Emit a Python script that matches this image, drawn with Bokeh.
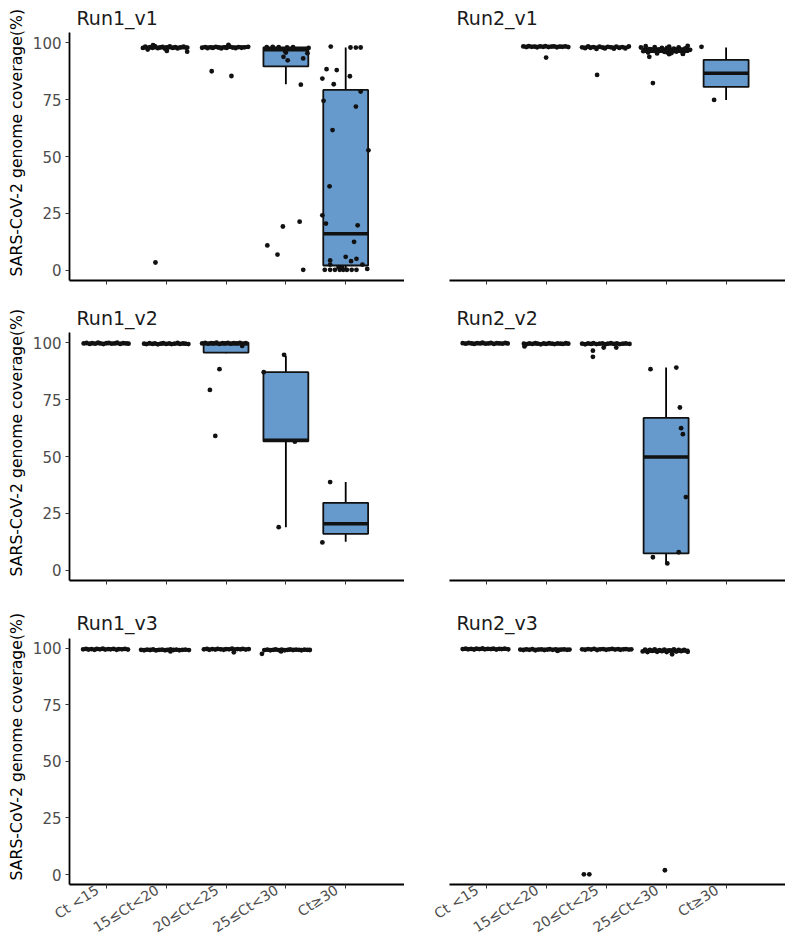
import math
from bokeh.plotting import figure
from bokeh.layouts import row, column
from bokeh.models import FixedTicker, Range1d, Title, Label, LinearAxis
from bokeh.embed import file_html
from bokeh.resources import INLINE

NA = float("nan")

categories = ["Ct <15", "15≤Ct<20", "20≤Ct<25", "25≤Ct<30", "Ct≥30"]
y_ticks = [0, 25, 50, 75, 100]
y_label = "SARS-CoV-2 genome coverage(%)"

# ---------------- Run1_v1 ----------------
r1v1_lo = [NA, 96.3, 97.2, 81.7, 0.0]
r1v1_q1 = [NA, 97.4, 97.6, 89.5, 2.2]
r1v1_med = [NA, 97.8, 97.9, 96.8, 16.1]
r1v1_q3 = [NA, 98.2, 98.2, 97.8, 79.2]
r1v1_hi = [NA, 98.8, 98.9, 98.0, 97.8]
r1v1_g2_val = [97.6, 98.2, 96.9, 98.0, 97.7, 98.4, 97.5, 97.9, 98.1, 97.3, 97.8, 98.3, 97.6, 98.0, 97.4, 97.9, 98.2, 97.7, 98.8, 96.3, 96.0, 3.5]
r1v1_g2_jit = [-0.39, -0.35, -0.31, -0.27, -0.23, -0.19, -0.14, -0.10, -0.06, -0.02, 0.02, 0.06, 0.11, 0.15, 0.19, 0.24, 0.29, 0.34, -0.22, 0.01, 0.35, -0.18]
r1v1_g3_val = [97.7, 98.0, 97.5, 97.9, 97.6, 98.1, 97.8, 97.4, 99.0, 97.9, 97.6, 98.2, 97.8, 97.5, 98.0, 97.7, 97.9, 98.1, 87.4, 85.3]
r1v1_g3_jit = [-0.40, -0.35, -0.31, -0.26, -0.22, -0.17, -0.13, -0.08, 0.04, -0.03, 0.01, 0.06, 0.11, 0.16, 0.21, 0.26, 0.31, 0.37, -0.24, 0.09]
r1v1_g4_val = [98.0, 98.1, 98.0, 97.9, 98.0, 97.6, 95.6, 93.7, 92.2, 95.3, 93.0, 81.5, 19.3, 21.4, 11.0, 7.0, 0.3, 96.2]
r1v1_g4_jit = [-0.32, -0.22, -0.12, 0.02, 0.12, 0.38, 0.00, -0.04, 0.03, 0.36, 0.29, 0.25, -0.05, 0.23, -0.31, -0.14, 0.29, -0.01]
r1v1_g5_val = [98.2, 97.8, 97.8, 97.8, 88.3, 87.9, 84.2, 81.7, 85.2, 74.4, 78.5, 71.9, 61.6, 52.7, 36.9, 24.2, 20.6, 19.8, 12.6, 6.0, 4.4, 4.1, 5.1, 2.6, 2.6, 0.7, 0.3, 0.3, 0.3, 0.3, 0.3, 0.3, 0.3, 0.3, 1.5, 1.2]
r1v1_g5_jit = [-0.25, 0.08, 0.17, 0.25, -0.32, -0.15, -0.39, -0.20, 0.07, -0.37, 0.25, 0.17, -0.22, 0.38, -0.27, -0.39, -0.33, 0.20, 0.14, 0.00, -0.26, 0.09, 0.18, -0.26, 0.28, 0.36, -0.35, -0.26, -0.18, -0.10, -0.04, 0.02, 0.10, 0.18, -0.12, -0.06]

# ---------------- Run2_v1 ----------------
r2v1_lo = [NA, 97.8, 97.2, 94.8, 74.8]
r2v1_q1 = [NA, 98.0, 97.6, 95.8, 80.5]
r2v1_med = [NA, 98.2, 97.9, 96.6, 86.5]
r2v1_q3 = [NA, 98.3, 98.1, 97.5, 92.4]
r2v1_hi = [NA, 98.5, 98.4, 98.6, 97.8]
r2v1_g2_val = [98.3, 98.0, 98.4, 98.1, 98.2, 97.9, 98.3, 98.1, 98.4, 98.0, 98.2, 98.3, 97.9, 98.2, 98.1, 98.3, 98.0, 93.4]
r2v1_g2_jit = [-0.38, -0.33, -0.29, -0.24, -0.19, -0.15, -0.10, -0.05, -0.01, 0.04, 0.09, 0.13, 0.18, 0.23, 0.27, 0.32, 0.37, 0.00]
r2v1_g3_val = [97.9, 97.5, 98.3, 97.7, 98.0, 97.2, 98.2, 97.8, 97.4, 98.1, 97.9, 97.3, 98.2, 97.6, 98.0, 97.4, 98.3, 85.8]
r2v1_g3_jit = [-0.40, -0.35, -0.30, -0.26, -0.21, -0.16, -0.11, -0.06, -0.02, 0.03, 0.08, 0.13, 0.17, 0.22, 0.27, 0.32, 0.38, -0.15]
r2v1_g4_val = [97.8, 96.2, 98.4, 95.6, 97.1, 96.6, 98.0, 95.2, 96.9, 97.6, 95.9, 96.4, 98.2, 95.4, 97.3, 96.0, 97.9, 96.5, 95.1, 97.4, 98.5, 96.8, 93.7, 82.2, 94.9, 95.0]
r2v1_g4_jit = [-0.42, -0.38, -0.34, -0.30, -0.27, -0.23, -0.19, -0.15, -0.11, -0.07, -0.03, 0.01, 0.05, 0.09, 0.13, 0.17, 0.21, 0.25, 0.28, 0.32, 0.36, 0.40, -0.28, -0.22, 0.05, 0.28]
r2v1_g5_val = [98.1, 74.8]
r2v1_g5_jit = [-0.41, -0.20]

# ---------------- Run1_v2 ----------------
r1v2_lo = [99.2, 99.1, 95.3, 19.0, 12.6]
r1v2_q1 = [99.4, 99.3, 95.6, 56.7, 16.1]
r1v2_med = [99.6, 99.5, 99.5, 57.1, 20.5]
r1v2_q3 = [99.8, 99.7, 99.9, 87.0, 29.7]
r1v2_hi = [100.0, 99.9, 100.0, 94.2, 38.8]
r1v2_g1_val = [99.6, 99.8, 99.4, 99.7, 99.5, 99.9, 99.6, 99.3, 99.7, 99.8, 99.5, 99.6, 99.9, 99.4, 99.7, 99.6, 99.5]
r1v2_g1_jit = [-0.38, -0.33, -0.28, -0.24, -0.19, -0.14, -0.10, -0.05, 0.00, 0.04, 0.09, 0.14, 0.18, 0.23, 0.28, 0.33, 0.37]
r1v2_g2_val = [99.5, 99.3, 99.7, 99.4, 99.6, 99.2, 99.5, 99.7, 99.4, 99.6, 99.3, 99.5, 99.8, 99.4, 99.6, 99.5, 99.3]
r1v2_g2_jit = [-0.37, -0.33, -0.28, -0.23, -0.19, -0.14, -0.09, -0.05, 0.00, 0.05, 0.09, 0.14, 0.19, 0.23, 0.28, 0.32, 0.37]
r1v2_g3_val = [99.6, 99.8, 99.5, 99.7, 99.6, 99.9, 99.4, 99.7, 99.6, 99.8, 99.5, 99.7, 99.6, 99.8, 99.5, 99.7, 98.5, 88.3, 79.2, 59.0]
r1v2_g3_jit = [-0.40, -0.35, -0.30, -0.25, -0.21, -0.16, -0.11, -0.06, -0.02, 0.03, 0.08, 0.13, 0.18, 0.23, 0.28, 0.33, 0.27, -0.11, -0.27, -0.18]
r1v2_g4_val = [94.6, 87.0, 56.5, 19.0]
r1v2_g4_jit = [-0.03, -0.37, 0.15, -0.12]
r1v2_g5_val = [38.8, 12.3]
r1v2_g5_jit = [-0.26, -0.39]

# ---------------- Run2_v2 ----------------
r2v2_lo = [99.2, 99.1, 99.0, 2.9, NA]
r2v2_q1 = [99.4, 99.3, 99.3, 7.5, NA]
r2v2_med = [99.6, 99.5, 99.5, 49.8, NA]
r2v2_q3 = [99.8, 99.7, 99.7, 66.9, NA]
r2v2_hi = [100.0, 99.9, 99.9, 89.0, NA]
r2v2_g1_val = [99.7, 99.5, 99.8, 99.6, 99.4, 99.7, 99.6, 99.9, 99.5, 99.6, 99.8, 99.4, 99.7, 99.6, 99.5, 99.8, 99.6]
r2v2_g1_jit = [-0.39, -0.34, -0.29, -0.24, -0.20, -0.15, -0.10, -0.06, -0.01, 0.04, 0.08, 0.13, 0.18, 0.22, 0.27, 0.32, 0.36]
r2v2_g2_val = [99.5, 99.3, 99.6, 99.4, 99.7, 99.5, 99.2, 99.6, 99.4, 99.7, 99.5, 99.3, 99.6, 99.5, 99.4, 99.7, 99.5, 98.3]
r2v2_g2_jit = [-0.37, -0.32, -0.28, -0.23, -0.18, -0.14, -0.09, -0.04, 0.00, 0.05, 0.10, 0.14, 0.19, 0.24, 0.28, 0.33, 0.37, -0.36]
r2v2_g3_val = [99.5, 99.2, 99.6, 99.4, 99.7, 99.3, 99.5, 99.6, 99.2, 99.5, 99.7, 99.4, 99.6, 99.3, 99.5, 99.6, 99.4, 96.4, 93.7, 97.8, 97.8]
r2v2_g3_jit = [-0.40, -0.35, -0.30, -0.25, -0.21, -0.16, -0.11, -0.06, -0.01, 0.03, 0.08, 0.13, 0.18, 0.23, 0.28, 0.33, 0.39, -0.22, -0.22, -0.04, 0.17]
r2v2_g4_val = [88.3, 89.0, 71.5, 62.4, 59.8, 32.2, 8.0, 5.8, 3.1]
r2v2_g4_jit = [-0.26, 0.17, 0.23, 0.25, 0.28, 0.33, 0.21, -0.22, 0.02]

# ---------------- Run1_v3 ----------------
r1v3_lo = [99.1, 98.8, 98.9, 98.6, NA]
r1v3_q1 = [99.3, 99.1, 99.3, 99.1, NA]
r1v3_med = [99.5, 99.3, 99.5, 99.3, NA]
r1v3_q3 = [99.7, 99.5, 99.7, 99.5, NA]
r1v3_hi = [99.9, 99.8, 99.9, 99.8, NA]
r1v3_g1_val = [99.5, 99.7, 99.4, 99.6, 99.3, 99.7, 99.5, 99.8, 99.4, 99.6, 99.5, 99.7, 99.3, 99.6, 99.5, 99.7, 99.4]
r1v3_g1_jit = [-0.39, -0.34, -0.30, -0.25, -0.20, -0.16, -0.11, -0.06, -0.02, 0.03, 0.07, 0.12, 0.17, 0.21, 0.26, 0.31, 0.36]
r1v3_g2_val = [99.3, 99.1, 99.4, 99.2, 99.5, 99.0, 99.3, 99.4, 99.1, 99.3, 99.5, 99.2, 99.4, 99.1, 99.3, 99.4, 99.2, 98.6]
r1v3_g2_jit = [-0.42, -0.37, -0.32, -0.27, -0.22, -0.17, -0.12, -0.07, -0.02, 0.02, 0.07, 0.12, 0.17, 0.22, 0.27, 0.32, 0.38, 0.07]
r1v3_g3_val = [99.5, 99.7, 99.3, 99.6, 99.4, 99.7, 99.5, 99.3, 99.6, 99.5, 99.8, 99.4, 99.6, 99.5, 99.7, 99.4, 99.6, 98.2]
r1v3_g3_jit = [-0.37, -0.32, -0.28, -0.23, -0.18, -0.14, -0.09, -0.04, 0.00, 0.05, 0.10, 0.14, 0.19, 0.24, 0.28, 0.33, 0.38, 0.13]
r1v3_g4_val = [97.5, 99.2, 99.4, 99.1, 99.3, 99.5, 99.2, 99.4, 99.1, 99.3, 99.5, 99.2, 99.4, 99.3, 99.1, 99.4, 99.3, 99.2, 98.6]
r1v3_g4_jit = [-0.40, -0.36, -0.31, -0.26, -0.21, -0.17, -0.12, -0.07, -0.02, 0.03, 0.07, 0.12, 0.17, 0.22, 0.26, 0.31, 0.36, 0.40, -0.08]

# ---------------- Run2_v3 ----------------
r2v3_lo = [99.2, 99.0, 99.0, 97.8, NA]
r2v3_q1 = [99.4, 99.2, 99.3, 98.4, NA]
r2v3_med = [99.6, 99.4, 99.5, 99.0, NA]
r2v3_q3 = [99.8, 99.6, 99.7, 99.4, NA]
r2v3_hi = [100.0, 99.9, 99.9, 99.8, NA]
r2v3_g1_val = [99.6, 99.8, 99.5, 99.7, 99.4, 99.8, 99.6, 99.9, 99.5, 99.7, 99.6, 99.8, 99.4, 99.7, 99.6, 99.8, 99.5]
r2v3_g1_jit = [-0.39, -0.34, -0.30, -0.25, -0.20, -0.16, -0.11, -0.06, -0.02, 0.03, 0.08, 0.12, 0.17, 0.22, 0.26, 0.31, 0.37]
r2v3_g2_val = [99.4, 99.2, 99.5, 99.3, 99.6, 99.1, 99.4, 99.5, 99.2, 99.4, 99.6, 99.3, 99.5, 99.2, 99.4, 99.5, 99.3, 99.4, 98.8]
r2v3_g2_jit = [-0.43, -0.38, -0.33, -0.28, -0.23, -0.18, -0.13, -0.08, -0.03, 0.02, 0.06, 0.11, 0.16, 0.21, 0.25, 0.30, 0.35, 0.39, 0.19]
r2v3_g3_val = [99.5, 99.3, 99.6, 99.4, 99.7, 99.2, 99.5, 99.6, 99.3, 99.5, 99.7, 99.4, 99.6, 99.3, 99.5, 99.6, 99.4, 99.5, 0.1, 0.1]
r2v3_g3_jit = [-0.40, -0.35, -0.30, -0.25, -0.20, -0.15, -0.10, -0.05, 0.00, 0.05, 0.10, 0.15, 0.20, 0.24, 0.29, 0.33, 0.38, 0.42, -0.37, -0.28]
r2v3_g4_val = [98.6, 99.4, 98.3, 99.2, 98.8, 99.5, 98.4, 99.1, 98.7, 99.4, 98.3, 99.0, 98.9, 99.5, 98.5, 99.2, 98.7, 99.3, 98.4, 97.3, 1.9]
r2v3_g4_jit = [-0.39, -0.35, -0.31, -0.27, -0.23, -0.19, -0.15, -0.11, -0.07, -0.03, 0.01, 0.05, 0.09, 0.13, 0.17, 0.21, 0.25, 0.30, 0.36, 0.10, -0.02]

panels = [
    ("Run1_v1", (r1v1_lo, r1v1_q1, r1v1_med, r1v1_q3, r1v1_hi),
     [(2, r1v1_g2_val, r1v1_g2_jit), (3, r1v1_g3_val, r1v1_g3_jit),
      (4, r1v1_g4_val, r1v1_g4_jit), (5, r1v1_g5_val, r1v1_g5_jit)]),
    ("Run2_v1", (r2v1_lo, r2v1_q1, r2v1_med, r2v1_q3, r2v1_hi),
     [(2, r2v1_g2_val, r2v1_g2_jit), (3, r2v1_g3_val, r2v1_g3_jit),
      (4, r2v1_g4_val, r2v1_g4_jit), (5, r2v1_g5_val, r2v1_g5_jit)]),
    ("Run1_v2", (r1v2_lo, r1v2_q1, r1v2_med, r1v2_q3, r1v2_hi),
     [(1, r1v2_g1_val, r1v2_g1_jit), (2, r1v2_g2_val, r1v2_g2_jit), (3, r1v2_g3_val, r1v2_g3_jit),
      (4, r1v2_g4_val, r1v2_g4_jit), (5, r1v2_g5_val, r1v2_g5_jit)]),
    ("Run2_v2", (r2v2_lo, r2v2_q1, r2v2_med, r2v2_q3, r2v2_hi),
     [(1, r2v2_g1_val, r2v2_g1_jit), (2, r2v2_g2_val, r2v2_g2_jit), (3, r2v2_g3_val, r2v2_g3_jit),
      (4, r2v2_g4_val, r2v2_g4_jit)]),
    ("Run1_v3", (r1v3_lo, r1v3_q1, r1v3_med, r1v3_q3, r1v3_hi),
     [(1, r1v3_g1_val, r1v3_g1_jit), (2, r1v3_g2_val, r1v3_g2_jit), (3, r1v3_g3_val, r1v3_g3_jit),
      (4, r1v3_g4_val, r1v3_g4_jit)]),
    ("Run2_v3", (r2v3_lo, r2v3_q1, r2v3_med, r2v3_q3, r2v3_hi),
     [(1, r2v3_g1_val, r2v3_g1_jit), (2, r2v3_g2_val, r2v3_g2_jit), (3, r2v3_g3_val, r2v3_g3_jit),
      (4, r2v3_g4_val, r2v3_g4_jit)]),
]

BOX_FILL = "#6699CC"
HALF = 0.375
FONT = "DejaVu Sans"
ROW_H = [300, 306, 339]
ROW_BOTTOM = [20, 26, 59]
Y0, Y1 = -4.39, 104.39          # data extent of each panel (ggplot-style padding)
STRIP_PX, DATA_PX = 32, 248     # pixels of strip (title) area above the data area
Y_TOP = Y1 + (Y1 - Y0) * STRIP_PX / DATA_PX
LABEL_SHIFT = 0.15              # rotated tick labels sit a little left of their ticks


def build(idx, title, stats, groups):
    r, c = divmod(idx, 2)
    left = c == 0
    bottom_row = r == 2
    if left:
        width, border_l, xr = 404, 68, Range1d(0.383, 5.983)
    else:
        width, border_l, xr = 381, 45, Range1d(0.39, 5.99)
    yr = Range1d(Y0, Y_TOP)
    p = figure(width=width, height=ROW_H[r], x_range=xr, y_range=yr, title=None,
               output_backend="svg", toolbar_location=None,
               min_border_left=border_l, min_border_right=0,
               min_border_top=0, min_border_bottom=ROW_BOTTOM[r])
    p.xgrid.visible = False
    p.ygrid.visible = False
    p.outline_line_color = None
    p.background_fill_color = "white"
    p.border_fill_color = "white"

    lo, q1, med, q3, hi = stats
    sel = [i for i in range(5) if not math.isnan(q1[i])]
    xs = [i + 1 for i in sel]
    blo = [lo[i] for i in sel]
    bq1 = [q1[i] for i in sel]
    bmed = [med[i] for i in sel]
    bq3 = [q3[i] for i in sel]
    bhi = [hi[i] for i in sel]
    p.segment(x0=xs, y0=bq3, x1=xs, y1=bhi, line_color="black", line_width=1.8)
    p.segment(x0=xs, y0=blo, x1=xs, y1=bq1, line_color="black", line_width=1.8)
    p.quad(left=[x - HALF for x in xs], right=[x + HALF for x in xs], bottom=bq1, top=bq3,
           fill_color=BOX_FILL, line_color="#111111", line_width=1.8)
    p.segment(x0=[x - HALF for x in xs], y0=bmed, x1=[x + HALF for x in xs], y1=bmed,
              line_color="#111111", line_width=3.5)

    px, py = [], []
    for cat, vals, jits in groups:
        for v, j in zip(vals, jits):
            px.append(cat + j)
            py.append(v)
    p.scatter(x=px, y=py, size=4.8, color="#111111", line_width=0)

    # facet strip title, in the strip area above the data area
    p.add_layout(Label(x=xr.start, y=Y1, x_offset=7, y_offset=15, text=title,
                       text_font=FONT, text_font_size="19px", text_color="#1a1a1a",
                       text_align="left", text_baseline="alphabetic"))

    ax = p.xaxis[0]
    ax.ticker = FixedTicker(ticks=[1, 2, 3, 4, 5])
    ax.axis_line_color = "black"
    ax.axis_line_width = 1.8
    ax.major_tick_out = 4
    ax.major_tick_in = 0
    ax.major_tick_line_color = "#333333"
    ax.minor_tick_line_color = None
    ax.major_label_text_color = None
    ax.major_label_standoff = 0
    if bottom_row:
        ax.major_label_text_font_size = "1px"
        p.extra_x_ranges = {"labels": Range1d(xr.start + LABEL_SHIFT, xr.end + LABEL_SHIFT)}
        lab = LinearAxis(x_range_name="labels", ticker=FixedTicker(ticks=[1, 2, 3, 4, 5]),
                         major_label_overrides={i + 1: cat for i, cat in enumerate(categories)},
                         axis_line_color=None, major_tick_line_color=None,
                         minor_tick_line_color=None, major_tick_out=0, major_tick_in=0,
                         major_label_orientation=0.57, major_label_standoff=0,
                         major_label_text_font=FONT, major_label_text_font_size="14px",
                         major_label_text_color="#4D4D4D")
        p.add_layout(lab, "below")
    else:
        ax.major_label_text_font_size = "10px"

    ay = p.yaxis[0]
    if left:
        ay.bounds = (Y0, Y1)
        ay.ticker = FixedTicker(ticks=y_ticks)
        ay.axis_line_color = "black"
        ay.axis_line_width = 1.8
        ay.major_tick_out = 4
        ay.major_tick_in = 0
        ay.major_tick_line_color = "#333333"
        ay.minor_tick_line_color = None
        ay.major_label_text_font = FONT
        ay.major_label_text_font_size = "15px"
        ay.major_label_text_color = "#4D4D4D"
        ay.major_label_standoff = 4
        p.add_layout(Title(text=y_label, align="left", offset=4, text_font=FONT,
                           text_font_size="15.7px", text_font_style="normal",
                           text_color="black", standoff=8), "left")
    else:
        ay.visible = False
    return p


figs = [build(i, t, s, g) for i, (t, s, g) in enumerate(panels)]
layout = column(row(figs[0], figs[1]), row(figs[2], figs[3]), row(figs[4], figs[5]))

with open("out.html", "w") as f:
    f.write(file_html(layout, INLINE))
